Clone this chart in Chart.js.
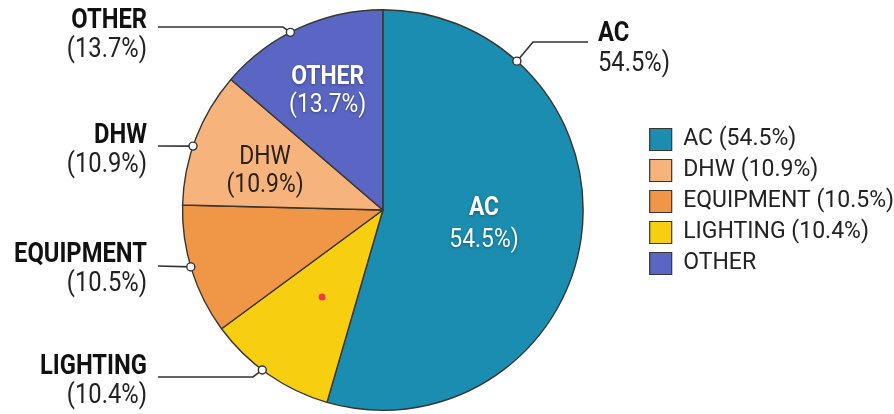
<!DOCTYPE html>
<html>
<head>
<meta charset="utf-8">
<script src="https://cdn.jsdelivr.net/npm/chart.js@4/dist/chart.umd.min.js"></script>
<style>
  html, body { margin: 0; padding: 0; background: #ffffff; }
  #wrap { width: 894px; height: 414px; position: relative; }
</style>
</head>
<body>
<div id="wrap"><canvas id="c" width="894" height="414"></canvas></div>
<script>
// ---- data ----
const categories = ['AC', 'LIGHTING', 'EQUIPMENT', 'DHW', 'OTHER'];
const shares = [54.5, 10.4, 10.5, 10.9, 13.7];
const shareTexts = ['54.5%)', '(10.4%)', '(10.5%)', '(10.9%)', '(13.7%)'];
const legendTexts = ['AC (54.5%)', 'LIGHTING (10.4%)', 'EQUIPMENT (10.5%)', 'DHW (10.9%)', 'OTHER'];
const legendOrder = ['AC', 'DHW', 'EQUIPMENT', 'LIGHTING', 'OTHER'];
const sliceColors = ['#1a8db0', '#f8cf10', '#ef9747', '#f7b37c', '#5a66c3'];

const FONT = "Roboto, 'Liberation Sans', sans-serif";
const SX = 0.88; // condensed look

function txt(ctx, s, x, y, size, weight, color, align, shadow) {
  ctx.save();
  ctx.translate(x, y);
  ctx.scale(SX, 1);
  ctx.font = weight + ' ' + size + 'px ' + FONT;
  ctx.textAlign = align;
  ctx.textBaseline = 'middle';
  if (shadow) {
    ctx.shadowColor = 'rgba(0,0,0,0.35)';
    ctx.shadowBlur = 3;
    ctx.shadowOffsetY = 1;
  }
  ctx.fillStyle = color;
  ctx.fillText(s, 0, 0);
  ctx.restore();
}

// callout layout: dot angle (deg, canvas), path points, text anchor
const callouts = {
  OTHER:     { ang: 242.5, path: [[158, 27], [283, 27]], tx: 147, y1: 21, y2: 50, align: 'right' },
  DHW:       { ang: 198.6, path: [[158, 146]], tx: 147, y1: 136, y2: 165, align: 'right' },
  EQUIPMENT: { ang: 163.5, path: [[158, 266]], tx: 147, y1: 255, y2: 284, align: 'right' },
  LIGHTING:  { ang: 127.0, path: [[158, 377], [253, 377]], tx: 147, y1: 367, y2: 396, align: 'right' },
  AC:        { ang: -48.0, path: [[588, 42], [533, 42]], tx: 598, y1: 34, y2: 64, align: 'left' }
};
// inner labels: radius fraction along the slice's middle angle
const inner = {
  AC:    { rf: 0.51, dark: false, dy: 0, gap: 16 },
  DHW:   { rf: 0.63, dark: true, dy: 7, gap: 14 },
  OTHER: { rf: 0.66, dark: false, dy: 2, gap: 14 }
};

const labelPlugin = {
  id: 'labels',
  afterDatasetsDraw(chart) {
    const ctx = chart.ctx;
    const meta = chart.getDatasetMeta(0);
    meta.data.forEach((arc, i) => {
      const name = categories[i];
      const cx = arc.x, cy = arc.y, R = arc.outerRadius;
      const mid = (arc.startAngle + arc.endAngle) / 2;
      // inner label
      const il = inner[name];
      if (il) {
        const px = cx + Math.cos(mid) * R * il.rf;
        const py = cy + Math.sin(mid) * R * il.rf + il.dy;
        const col = il.dark ? '#2a2118' : '#ffffff';
        txt(ctx, name, px, py - il.gap, 26, il.dark ? '400' : '700', col, 'center', !il.dark);
        txt(ctx, shareTexts[i], px, py + il.gap, 26, '400', col, 'center', !il.dark);
      }
      // callout
      const c = callouts[name];
      if (c) {
        const a = c.ang * Math.PI / 180;
        const dx = cx + Math.cos(a) * R, dy = cy + Math.sin(a) * R;
        ctx.save();
        ctx.strokeStyle = '#333333';
        ctx.lineWidth = 1.6;
        ctx.beginPath();
        ctx.moveTo(c.path[0][0], c.path[0][1]);
        for (let k = 1; k < c.path.length; k++) ctx.lineTo(c.path[k][0], c.path[k][1]);
        ctx.lineTo(dx, dy);
        ctx.stroke();
        ctx.beginPath();
        ctx.arc(dx, dy, 4, 0, Math.PI * 2);
        ctx.fillStyle = '#ffffff';
        ctx.fill();
        ctx.lineWidth = 1.4;
        ctx.stroke();
        ctx.restore();
        txt(ctx, name, c.tx, c.y1, 27, '700', '#111111', c.align, false);
        txt(ctx, shareTexts[i], c.tx, c.y2, 27, '400', '#222222', c.align, false);
      }
      // small red marker inside the LIGHTING slice
      if (name === 'LIGHTING') {
        ctx.save();
        ctx.beginPath();
        ctx.arc(cx + Math.cos(mid) * R * 0.53, cy + Math.sin(mid) * R * 0.53, 3.5, 0, Math.PI * 2);
        ctx.fillStyle = '#ee3a4c';
        ctx.fill();
        ctx.restore();
      }
    });
  }
};

new Chart(document.getElementById('c'), {
  type: 'pie',
  data: {
    labels: legendTexts,
    datasets: [{
      data: shares,
      backgroundColor: sliceColors,
      borderColor: '#3a3530',
      borderWidth: 1.4
    }]
  },
  options: {
    responsive: false,
    animation: false,
    layout: { padding: { left: 124, top: 9, bottom: 3, right: -10 } },
    plugins: {
      tooltip: { enabled: false },
      legend: {
        position: 'right',
        align: 'start',
        title: { display: true, text: ' ', font: { size: 10 }, padding: { top: 99, bottom: 0 } },
        labels: {
          boxWidth: 22,
          boxHeight: 22,
          padding: 8,
          color: '#222222',
          font: { family: "Roboto, sans-serif", size: 23 },
          sort: (a, b) => legendOrder.indexOf(categories[a.index]) - legendOrder.indexOf(categories[b.index]),
          generateLabels(chart) {
            const ds = chart.data.datasets[0];
            return chart.data.labels.map((t, i) => ({
              text: t,
              fillStyle: ds.backgroundColor[i],
              strokeStyle: '#3a3530',
              lineWidth: 1.2,
              fontColor: '#222222',
              hidden: false,
              index: i
            }));
          }
        }
      }
    }
  },
  plugins: [labelPlugin]
});
</script>
</body>
</html>
